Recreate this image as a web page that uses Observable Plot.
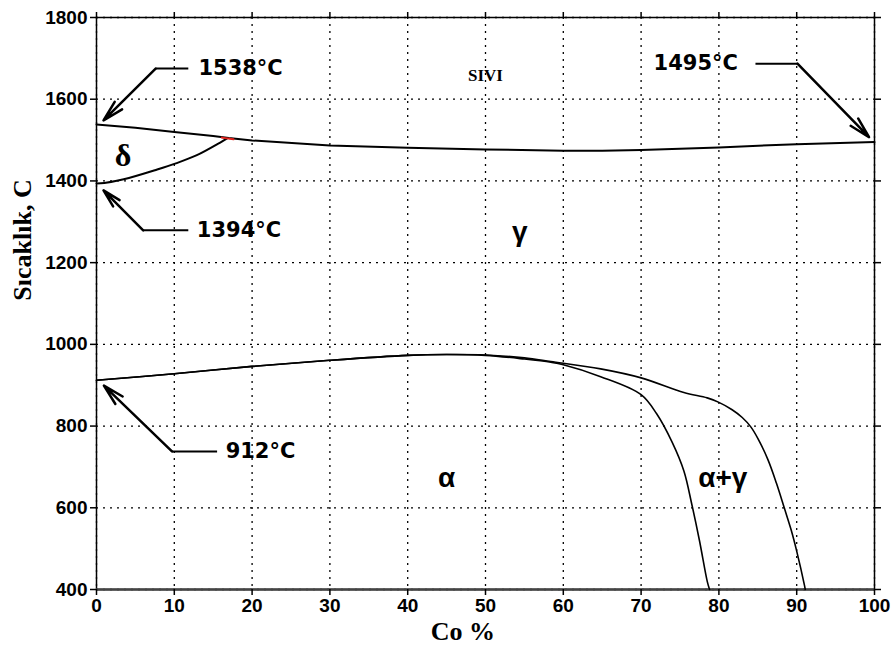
<!DOCTYPE html>
<html><head><meta charset="utf-8">
<script src="https://cdn.jsdelivr.net/npm/d3@7"></script>
<script src="https://cdn.jsdelivr.net/npm/@observablehq/plot@0.6"></script>
<style>
body{margin:0;background:#fff;}
#chart svg{display:block;}
</style></head><body><div id="chart"></div>
<script>
// Axis ticks
const xTicks = [0,10,20,30,40,50,60,70,80,90,100];
const yTicks = [400,600,800,1000,1200,1400,1600,1800];

// Liquidus / upper boundary (Co %, °C)
const liquidusCo = [0, 5, 10, 15, 17, 20, 30, 40, 50, 60, 65, 70, 80, 90, 100];
const liquidusT  = [1538, 1530, 1520, 1510, 1505, 1499, 1487, 1481, 1477, 1474, 1474, 1476, 1482, 1490, 1495];

// Delta lower boundary
const deltaCo = [0, 1, 3.5, 7.8, 10.2, 12.9, 15.9, 16.8];
const deltaT  = [1394, 1395, 1404, 1428, 1443, 1463, 1494, 1504];

// Small red segment near the peritectic point
const redCo = [16.1, 17.6];
const redT  = [1506, 1502];

// Alpha boundary (left branch)
const alphaCo = [0, 10, 20, 30, 40, 45, 50, 55, 58.4, 60, 64.8, 70, 72, 74, 75.5, 76.5, 77.5, 78.5, 78.8];
const alphaT  = [912, 928, 946, 961, 973, 975, 973, 964, 956, 950, 921, 877, 830, 760, 690, 610, 520, 420, 400];

// Gamma boundary (right branch)
const gammaCo = [0, 10, 20, 30, 40, 45, 50, 55, 58.4, 64.8, 70, 75.5, 78.5, 80, 81.7, 83, 84.1, 85, 86.3, 87.4, 88.4, 89.3, 90, 91, 91.1];
const gammaT  = [912, 928, 946, 961, 973, 975, 974, 967, 958, 940, 918, 882, 869, 858, 840, 821, 798, 770, 718, 660, 600, 545, 494, 410, 400];

// Annotations: label text, label anchor point, leader corner, arrow tip
const annLabels = ["1538°C", "1394°C", "912°C", "1495°C"];
const annLabelCo = [13.1, 12.9, 16.6, 71.6];
const annLabelT  = [1675, 1279, 738, 1687];
const annLeadFromCo = [11.8, 11.8, 15.5, 84.7];
const annCornerCo = [7.6, 6.0, 9.7, 90.1];
const annTipCo = [0.9, 0.9, 0.95, 99.3];
const annTipT  = [1548, 1377, 899, 1507];

// Phase region labels
const deltaLabel = ["δ"];
const deltaLabelCo = [3.4];
const deltaLabelT = [1462];
const phaseLabels = ["γ", "α", "α+γ"];
const phaseCo = [54.4, 45, 80.5];
const phaseT  = [1274, 674, 674];
const liquidLabel = ["SIVI"];
const liquidCo = [50];
const liquidT = [1658];

const zip = (xs, ys) => xs.map((x, i) => ({co: x, t: ys[i]}));
const ann = annLabels.map((s, i) => ({
  label: s, lx: annLabelCo[i], ly: annLabelT[i], fx: annLeadFromCo[i],
  cx: annCornerCo[i], tx: annTipCo[i], ty: annTipT[i]
}));
const phases = phaseLabels.map((s, i) => ({label: s, co: phaseCo[i], t: phaseT[i]}));

const chart = Plot.plot({
  width: 895,
  height: 655,
  marginLeft: 96,
  marginRight: 21,
  marginTop: 17,
  marginBottom: 66,
  x: {domain: [0, 100]},
  y: {domain: [400, 1800]},
  style: {fontFamily: "'Liberation Sans', Arial, sans-serif", fontSize: "17px", fontWeight: "bold", color: "#000", background: "#fff"},
  marks: [
    Plot.gridX(xTicks, {stroke: "#000", strokeOpacity: 1, strokeWidth: 1.3, strokeDasharray: "2,5"}),
    Plot.gridY(yTicks, {stroke: "#000", strokeOpacity: 1, strokeWidth: 1.3, strokeDasharray: "2,5"}),
    Plot.frame({stroke: "#000", strokeWidth: 1.5}),
    Plot.ruleY([400], {stroke: "#444", strokeWidth: 2.5}),
    Plot.axisX({ticks: xTicks, tickSize: 6, tickPadding: 3, label: null, strokeWidth: 1.5, fontSize: 19, fontWeight: "bold", tickFormat: d => String(d)}),
    Plot.axisX({anchor: "top", ticks: xTicks, tickSize: 6, tickFormat: () => "", label: null, strokeWidth: 1.5}),
    Plot.axisY({ticks: yTicks, tickSize: 6, tickPadding: 3, label: null, strokeWidth: 1.5, fontSize: 19, fontWeight: "bold", tickFormat: d => String(d)}),
    Plot.axisY({anchor: "right", ticks: yTicks, tickSize: 6, tickFormat: () => "", label: null, strokeWidth: 1.5}),
    Plot.line(zip(liquidusCo, liquidusT), {x: "co", y: "t", stroke: "#000", strokeWidth: 2}),
    Plot.line(zip(deltaCo, deltaT), {x: "co", y: "t", stroke: "#000", strokeWidth: 2, curve: "catmull-rom"}),
    Plot.line(zip(redCo, redT), {x: "co", y: "t", stroke: "#e0201a", strokeWidth: 2}),
    Plot.line(zip(alphaCo, alphaT), {x: "co", y: "t", stroke: "#000", strokeWidth: 1.6, curve: "catmull-rom"}),
    Plot.line(zip(gammaCo, gammaT), {x: "co", y: "t", stroke: "#000", strokeWidth: 1.6, curve: "catmull-rom"}),
    // leaders
    Plot.link(ann, {x1: "fx", y1: "ly", x2: "cx", y2: "ly", stroke: "#000", strokeWidth: 2}),
    Plot.arrow(ann, {x1: "cx", y1: "ly", x2: "tx", y2: "ty", stroke: "#000", strokeWidth: 2.5, headLength: 13, headAngle: 28}),
    Plot.text(ann, {x: "lx", y: "ly", text: "label", textAnchor: "start", fontFamily: "'DejaVu Sans', Verdana, sans-serif", fontWeight: "bold", fontSize: 21, fill: "#000"}),
    Plot.text(deltaLabel, {x: deltaLabelCo, y: deltaLabelT, text: d => d, fontFamily: "'Liberation Serif', 'Times New Roman', serif", fontWeight: "bold", fontSize: 32, fill: "#000"}),
    Plot.text(phases, {x: "co", y: "t", text: "label", fontFamily: "'Liberation Sans', Arial, sans-serif", fontWeight: "bold", fontSize: 28, fill: "#000"}),
    Plot.text(liquidLabel, {x: liquidCo, y: liquidT, text: d => d, fontFamily: "'Liberation Serif', 'Times New Roman', serif", fontWeight: "bold", fontSize: 17, fill: "#000"}),
    Plot.text(["Co %"], {x: [47.1], frameAnchor: "bottom", dy: 50, text: d => d, fontFamily: "'Liberation Serif', 'Times New Roman', serif", fontWeight: "bold", fontSize: 26, fill: "#000"}),
    Plot.text(["Sıcaklık, C"], {y: [1107], frameAnchor: "left", dx: -74, rotate: -90, text: d => d, fontFamily: "'Liberation Serif', 'Times New Roman', serif", fontWeight: "bold", fontSize: 26, fill: "#000"})
  ]
});
document.getElementById("chart").appendChild(chart);
</script>
</body></html>
